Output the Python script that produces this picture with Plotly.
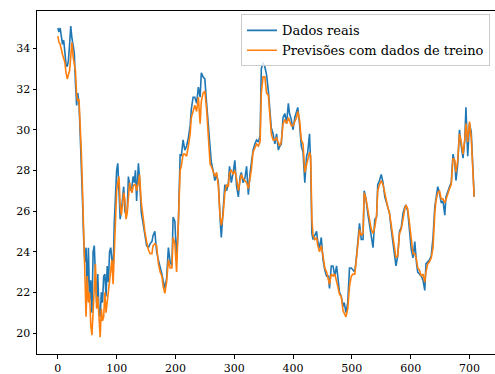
import plotly.graph_objects as go

idx = [0, 2, 4, 6, 8, 10, 12, 14, 16, 18, 20, 22, 24, 26, 28, 30, 32, 34, 36, 38,
       40, 42, 44, 46, 48, 50, 52, 54, 56, 58, 60, 62, 64, 66, 68, 70, 72, 74, 76, 78,
       80, 82, 84, 86, 88, 90, 92, 94, 96, 98, 100, 102, 104, 106, 108, 110, 112, 114, 116, 118,
       120, 122, 124, 126, 128, 130, 132, 134, 137, 139, 142, 145, 148, 151, 154, 157, 160, 162, 165, 168,
       171, 174, 177, 179, 182, 185, 188, 191, 194, 196, 199, 202, 205, 208, 210, 213, 216, 219, 222, 225,
       227, 230, 233, 236, 239, 242, 244, 247, 250, 253, 256, 259, 261, 264, 267, 270, 273, 276, 278, 281,
       284, 287, 290, 292, 295, 298, 301, 304, 307, 310, 312, 315, 318, 321, 324, 327, 329, 332, 335, 338,
       341, 344, 346, 349, 352, 355, 358, 360, 363, 366, 369, 372, 375, 377, 380, 383, 386, 389, 392, 394,
       397, 400, 403, 406, 408, 411, 414, 417, 420, 423, 425, 428, 430, 432, 434, 437, 440, 442, 445, 448,
       451, 454, 457, 460, 462, 465, 468, 471, 474, 476, 479, 482, 485, 487, 490, 493, 496, 499, 502, 505,
       508, 510, 513, 516, 519, 521, 524, 527, 530, 533, 536, 539, 542, 544, 547, 550, 553, 556, 558, 561,
       564, 567, 570, 573, 575, 578, 581, 584, 587, 590, 592, 595, 598, 601, 604, 607, 610, 612, 615, 618,
       621, 624, 626, 629, 632, 635, 638, 641, 643, 646, 649, 652, 655, 658, 660, 663, 666, 669, 672, 675,
       677, 680, 683, 686, 689, 692, 694, 697, 700, 703, 706, 708]

reais = [35.0, 34.8, 35.0, 34.6, 34.2, 34.4, 33.6, 33.2, 33.1, 33.4, 34.2, 35.1, 34.5, 34.0, 33.8, 32.3, 31.2, 31.8, 31.3, 29.8,
         28.4, 26.5, 24.6, 23.5, 24.2, 22.0, 24.2, 21.6, 22.6, 21.0, 24.0, 24.3, 22.8, 21.5, 22.9, 21.0, 20.8, 22.0, 21.5, 22.8,
         22.9, 21.8, 23.3, 22.5, 24.0, 24.2, 23.6, 23.0, 25.4, 27.0, 28.0, 28.35, 27.0, 25.6, 26.0, 26.8, 27.2, 26.0, 25.8, 26.0,
         27.7, 27.3, 27.0, 27.2, 27.7, 27.4, 28.0, 26.5, 28.35, 27.6, 25.9, 25.4, 24.8, 24.3, 24.2, 24.4, 24.5, 24.8, 25.0, 24.0,
         23.6, 23.3, 22.9, 22.6, 22.2, 22.7, 24.2, 23.5, 23.3, 25.7, 25.5, 23.6, 25.4, 28.8, 28.7, 29.5, 29.0, 29.2, 29.6, 30.2,
         31.0, 31.6, 31.6, 31.3, 32.1, 31.6, 32.8, 32.6, 32.5, 31.3, 30.3, 29.0, 28.4, 28.0, 27.5, 27.8, 27.4, 25.6, 24.7, 26.0,
         27.3, 27.0, 27.4, 28.2, 27.4, 27.85, 28.5, 27.2, 26.7, 27.7, 27.9, 27.4, 27.6, 28.2, 26.8, 27.9, 28.3, 29.0, 29.3, 29.5,
         29.4, 29.7, 33.0, 33.3, 33.1, 32.7, 31.9, 31.2, 30.1, 29.8, 29.3, 29.8, 29.0, 29.16, 29.3, 30.6, 30.8, 30.3, 31.3, 30.8,
         30.5, 30.0, 30.6, 30.9, 31.1, 30.3, 29.2, 28.9, 27.4, 28.7, 28.9, 29.8, 28.3, 24.9, 24.6, 24.8, 25.0, 24.5, 24.2, 24.7,
         23.6, 23.1, 22.8, 22.8, 22.2, 23.3, 23.3, 22.8, 23.3, 22.8, 22.0, 21.8, 21.3, 21.5, 21.0, 21.5, 23.2, 23.2, 23.1, 23.0,
         23.8, 24.6, 25.4, 24.6, 24.6, 27.0, 26.6, 25.9, 25.3, 24.8, 24.2, 25.6, 25.7, 27.3, 27.5, 27.8, 27.4, 26.7, 26.5, 26.2,
         25.9, 25.1, 24.5, 23.8, 23.3, 23.8, 25.0, 25.2, 25.9, 26.2, 26.3, 26.0, 25.2, 24.1, 23.7, 24.5, 23.4, 23.0, 22.9, 22.8,
         22.6, 22.1, 23.4, 23.5, 23.6, 23.8, 24.7, 26.2, 26.6, 27.2, 26.9, 26.4, 26.5, 25.8, 26.7, 27.0, 27.2, 27.4, 28.8, 28.4,
         27.5, 28.3, 30.0, 29.2, 28.6, 29.5, 31.1, 28.7, 30.3, 29.9, 27.9, 26.7]

previsoes = [34.6, 34.3, 34.2, 33.9, 33.7, 33.5, 33.3, 32.8, 32.5, 32.7, 32.9, 33.6, 34.3, 33.6, 33.2, 32.9, 31.7, 31.4, 31.5, 30.4,
             28.9, 27.0, 25.3, 23.2, 20.8, 22.8, 21.5, 22.0, 20.4, 19.9, 21.2, 22.5, 23.4, 21.2, 21.8, 20.8, 19.8, 21.2, 20.6, 20.8,
             22.0, 21.0, 21.5, 22.3, 22.8, 23.2, 23.6, 22.4, 23.8, 25.5, 27.0, 27.4, 27.7, 26.3, 25.8, 26.3, 26.9, 26.6, 25.6, 25.9,
             27.0, 27.4, 27.1, 26.9, 27.2, 27.3, 27.3, 27.0, 27.4, 27.8, 26.4, 25.6, 25.0, 24.5, 24.1, 23.9, 23.9, 24.3, 24.4, 24.3,
             23.4, 23.0, 22.8, 22.3, 21.95, 22.5, 23.6, 23.2, 23.2, 24.7, 24.4, 23.0, 25.2, 28.0, 28.2, 28.8, 28.8, 28.7, 29.2, 29.8,
             30.6, 30.9, 31.2, 30.9, 31.6, 30.3, 31.4, 31.8, 31.9, 31.0, 29.8, 28.3, 28.2, 27.9, 27.7, 27.9, 27.2, 25.7, 25.3, 25.8,
             26.9, 27.3, 27.2, 27.9, 28.0, 27.8, 28.0, 27.6, 27.0, 27.5, 27.8, 27.6, 27.5, 27.4, 27.1, 27.6, 28.0, 28.9, 29.1, 29.3,
             29.2, 29.4, 31.8, 32.6, 32.6, 31.8, 31.7, 30.8, 29.8, 29.5, 29.5, 29.6, 29.3, 29.2, 29.4, 30.3, 30.5, 30.3, 30.6, 30.4,
             30.2, 30.2, 30.4, 30.6, 30.9, 30.5, 29.5, 29.3, 27.9, 28.3, 28.5, 28.9, 28.7, 25.6, 24.8, 24.6, 24.7, 24.3, 24.0, 24.3,
             23.8, 23.2, 23.0, 22.6, 22.4, 22.9, 22.8, 22.9, 22.6, 22.3, 21.9, 21.8, 21.1, 21.0, 20.8, 21.2, 22.3, 22.8, 22.9, 22.9,
             23.6, 24.3, 25.1, 24.8, 24.9, 26.9, 26.6, 26.1, 25.4, 25.1, 24.9, 25.2, 25.8, 27.0, 27.3, 27.5, 27.3, 26.9, 26.5, 26.2,
             25.9, 25.3, 24.7, 23.9, 23.7, 23.8, 24.9, 25.1, 25.7, 26.1, 26.3, 26.1, 25.4, 24.6, 23.9, 23.9, 23.6, 23.2, 23.1, 22.8,
             22.9, 22.5, 23.0, 23.4, 23.5, 23.7, 24.2, 25.9, 26.5, 26.9, 27.0, 26.6, 26.6, 26.4, 26.6, 26.9, 27.1, 27.3, 28.6, 28.5,
             27.9, 28.5, 29.8, 29.4, 28.8, 29.5, 30.3, 29.4, 30.4, 29.6, 28.2, 26.7]

x_ticks = [0, 100, 200, 300, 400, 500, 600, 700]
y_ticks = [20, 22, 24, 26, 28, 30, 32, 34]

FONT = "DejaVu Serif"

fig = go.Figure()
fig.add_trace(go.Scatter(x=idx, y=reais, mode="lines", name="Dados reais",
                         line=dict(color="#1f77b4", width=1.6)))
fig.add_trace(go.Scatter(x=idx, y=previsoes, mode="lines", name="Previsões com dados de treino",
                         line=dict(color="#ff7f0e", width=1.6)))

axis_common = dict(showgrid=False, zeroline=False, showline=True, linecolor="black", linewidth=1,
                   ticks="outside", ticklen=3.5, tickwidth=1, tickcolor="black",
                   tickfont=dict(family=FONT, size=11, color="black"))

fig.update_layout(
    width=495, height=374,
    margin=dict(l=37, r=0, t=11, b=20),
    paper_bgcolor="white", plot_bgcolor="white",
    font=dict(family=FONT, size=11, color="black"),
    xaxis=dict(range=[-35.4, 743.4], tickvals=x_ticks, mirror=True, **axis_common),
    yaxis=dict(range=[18.97, 35.84], tickvals=y_ticks, mirror=False, **axis_common),
    legend=dict(x=0.989, y=0.99, xanchor="right", yanchor="top",
                bgcolor="rgba(255,255,255,0.8)", bordercolor="#cccccc", borderwidth=1,
                font=dict(family=FONT, size=13, color="black"),
                tracegroupgap=0, itemwidth=30),
    showlegend=True,
)

fig.write_html("out.html")
